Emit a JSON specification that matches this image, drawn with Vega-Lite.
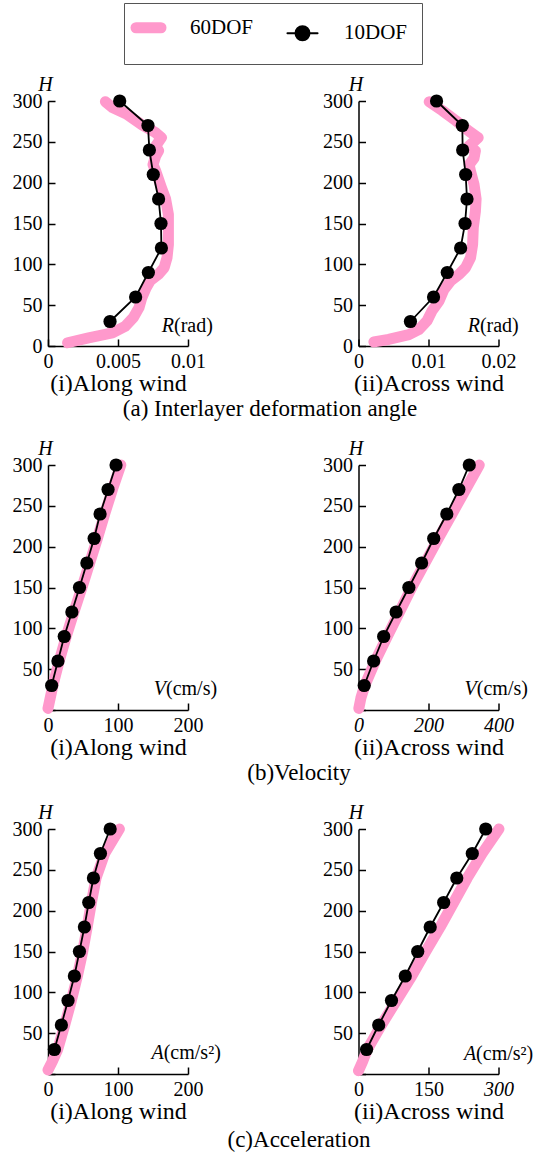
{
"$schema": "https://vega.github.io/schema/vega-lite/v6.json",
"background": "white",
"padding": {"left": 12, "top": 2, "right": 0, "bottom": 0},
"autosize": {"type": "pad"},
"config": {
  "font": "Liberation Serif",
  "view": {"stroke": null},
  "title": {"font": "Liberation Serif", "fontSize": 23, "fontWeight": "normal", "color": "black"},
  "text": {"font": "Liberation Serif", "fontSize": 20, "color": "black"},
  "axis": {"domainColor": "black", "domainWidth": 1.5, "tickColor": "black", "tickWidth": 1.5, "tickSize": -7, "labelFont": "Liberation Serif", "labelFontSize": 20, "labelColor": "black", "labelFlush": false, "labelOverlap": false, "grid": false, "titleFont": "Liberation Serif", "titleFontWeight": "normal", "titleColor": "black"},
  "axisX": {"titleFontSize": 24, "titlePadding": 0, "labelPadding": 12},
  "axisY": {"titleAngle": 0, "titleFontStyle": "italic", "titleFontSize": 20, "titleX": -3, "titleY": -17, "titleAlign": "center", "titleBaseline": "middle", "labelPadding": 13}
},
"datasets": {
"d": [
{"p":"a1","s":"10DOF","H":30,"v":0.00443},{"p":"a1","s":"10DOF","H":60,"v":0.00626},{"p":"a1","s":"10DOF","H":90,"v":0.00717},{"p":"a1","s":"10DOF","H":120,"v":0.0081},{"p":"a1","s":"10DOF","H":150,"v":0.00807},{"p":"a1","s":"10DOF","H":180,"v":0.0079},{"p":"a1","s":"10DOF","H":210,"v":0.00752},{"p":"a1","s":"10DOF","H":240,"v":0.00724},{"p":"a1","s":"10DOF","H":270,"v":0.00714},{"p":"a1","s":"10DOF","H":300,"v":0.00512},
{"p":"a1","s":"60DOF","H":4,"v":0.0014},{"p":"a1","s":"60DOF","H":10,"v":0.0029},{"p":"a1","s":"60DOF","H":16,"v":0.0046},{"p":"a1","s":"60DOF","H":24,"v":0.0055},{"p":"a1","s":"60DOF","H":35,"v":0.0061},{"p":"a1","s":"60DOF","H":47,"v":0.0065},{"p":"a1","s":"60DOF","H":59,"v":0.0067},{"p":"a1","s":"60DOF","H":71,"v":0.007},{"p":"a1","s":"60DOF","H":80,"v":0.0073},{"p":"a1","s":"60DOF","H":88,"v":0.0079},{"p":"a1","s":"60DOF","H":96,"v":0.0083},{"p":"a1","s":"60DOF","H":108,"v":0.0085},{"p":"a1","s":"60DOF","H":124,"v":0.0086},{"p":"a1","s":"60DOF","H":145,"v":0.0086},{"p":"a1","s":"60DOF","H":161,"v":0.0086},{"p":"a1","s":"60DOF","H":180,"v":0.0084},{"p":"a1","s":"60DOF","H":194,"v":0.0081},{"p":"a1","s":"60DOF","H":214,"v":0.0077},{"p":"a1","s":"60DOF","H":222,"v":0.0075},{"p":"a1","s":"60DOF","H":233,"v":0.0077},{"p":"a1","s":"60DOF","H":239,"v":0.0079},{"p":"a1","s":"60DOF","H":245,"v":0.0077},{"p":"a1","s":"60DOF","H":255,"v":0.0081},{"p":"a1","s":"60DOF","H":261,"v":0.0077},{"p":"a1","s":"60DOF","H":271,"v":0.0067},{"p":"a1","s":"60DOF","H":284,"v":0.0056},{"p":"a1","s":"60DOF","H":292,"v":0.0046},{"p":"a1","s":"60DOF","H":299,"v":0.0041},
{"p":"a2","s":"10DOF","H":30,"v":0.00742},{"p":"a2","s":"10DOF","H":60,"v":0.01072},{"p":"a2","s":"10DOF","H":90,"v":0.01268},{"p":"a2","s":"10DOF","H":120,"v":0.01459},{"p":"a2","s":"10DOF","H":150,"v":0.01522},{"p":"a2","s":"10DOF","H":180,"v":0.0155},{"p":"a2","s":"10DOF","H":210,"v":0.01531},{"p":"a2","s":"10DOF","H":240,"v":0.01488},{"p":"a2","s":"10DOF","H":270,"v":0.01483},{"p":"a2","s":"10DOF","H":300,"v":0.01115},
{"p":"a2","s":"60DOF","H":5,"v":0.0022},{"p":"a2","s":"60DOF","H":8,"v":0.0043},{"p":"a2","s":"60DOF","H":14,"v":0.0072},{"p":"a2","s":"60DOF","H":20,"v":0.0086},{"p":"a2","s":"60DOF","H":31,"v":0.0098},{"p":"a2","s":"60DOF","H":43,"v":0.0105},{"p":"a2","s":"60DOF","H":55,"v":0.0115},{"p":"a2","s":"60DOF","H":69,"v":0.0122},{"p":"a2","s":"60DOF","H":80,"v":0.0132},{"p":"a2","s":"60DOF","H":88,"v":0.0144},{"p":"a2","s":"60DOF","H":96,"v":0.0153},{"p":"a2","s":"60DOF","H":108,"v":0.016},{"p":"a2","s":"60DOF","H":124,"v":0.0163},{"p":"a2","s":"60DOF","H":145,"v":0.0164},{"p":"a2","s":"60DOF","H":165,"v":0.0167},{"p":"a2","s":"60DOF","H":180,"v":0.0168},{"p":"a2","s":"60DOF","H":198,"v":0.0165},{"p":"a2","s":"60DOF","H":214,"v":0.016},{"p":"a2","s":"60DOF","H":222,"v":0.0158},{"p":"a2","s":"60DOF","H":230,"v":0.0165},{"p":"a2","s":"60DOF","H":239,"v":0.0167},{"p":"a2","s":"60DOF","H":245,"v":0.0158},{"p":"a2","s":"60DOF","H":255,"v":0.0171},{"p":"a2","s":"60DOF","H":263,"v":0.0158},{"p":"a2","s":"60DOF","H":276,"v":0.0139},{"p":"a2","s":"60DOF","H":288,"v":0.012},{"p":"a2","s":"60DOF","H":299,"v":0.0101},
{"p":"b1","s":"10DOF","H":30,"v":5.2},{"p":"b1","s":"10DOF","H":60,"v":14.2},{"p":"b1","s":"10DOF","H":90,"v":23.2},{"p":"b1","s":"10DOF","H":120,"v":34.1},{"p":"b1","s":"10DOF","H":150,"v":45},{"p":"b1","s":"10DOF","H":180,"v":55.5},{"p":"b1","s":"10DOF","H":210,"v":65.9},{"p":"b1","s":"10DOF","H":240,"v":74.4},{"p":"b1","s":"10DOF","H":270,"v":85.8},{"p":"b1","s":"10DOF","H":300,"v":97.2},
{"p":"b1","s":"60DOF","H":2,"v":0},{"p":"b1","s":"60DOF","H":30,"v":7},{"p":"b1","s":"60DOF","H":60,"v":16},{"p":"b1","s":"60DOF","H":90,"v":26},{"p":"b1","s":"60DOF","H":120,"v":37},{"p":"b1","s":"60DOF","H":150,"v":48.5},{"p":"b1","s":"60DOF","H":180,"v":59.5},{"p":"b1","s":"60DOF","H":210,"v":70.5},{"p":"b1","s":"60DOF","H":240,"v":81},{"p":"b1","s":"60DOF","H":270,"v":92},{"p":"b1","s":"60DOF","H":300,"v":104},
{"p":"b2","s":"10DOF","H":30,"v":16.3},{"p":"b2","s":"10DOF","H":60,"v":43.2},{"p":"b2","s":"10DOF","H":90,"v":71.9},{"p":"b2","s":"10DOF","H":120,"v":107.4},{"p":"b2","s":"10DOF","H":150,"v":143.9},{"p":"b2","s":"10DOF","H":180,"v":180.3},{"p":"b2","s":"10DOF","H":210,"v":214.9},{"p":"b2","s":"10DOF","H":240,"v":252.3},{"p":"b2","s":"10DOF","H":270,"v":286.8},{"p":"b2","s":"10DOF","H":300,"v":316.5},
{"p":"b2","s":"60DOF","H":2,"v":1},{"p":"b2","s":"60DOF","H":15,"v":7},{"p":"b2","s":"60DOF","H":30,"v":18},{"p":"b2","s":"60DOF","H":60,"v":48},{"p":"b2","s":"60DOF","H":90,"v":82},{"p":"b2","s":"60DOF","H":120,"v":117},{"p":"b2","s":"60DOF","H":150,"v":152},{"p":"b2","s":"60DOF","H":180,"v":190},{"p":"b2","s":"60DOF","H":210,"v":228},{"p":"b2","s":"60DOF","H":240,"v":267},{"p":"b2","s":"60DOF","H":270,"v":306},{"p":"b2","s":"60DOF","H":300,"v":345},
{"p":"c1","s":"10DOF","H":30,"v":9.1},{"p":"c1","s":"10DOF","H":60,"v":19.1},{"p":"c1","s":"10DOF","H":90,"v":28.6},{"p":"c1","s":"10DOF","H":120,"v":37.7},{"p":"c1","s":"10DOF","H":150,"v":44.9},{"p":"c1","s":"10DOF","H":180,"v":52},{"p":"c1","s":"10DOF","H":210,"v":58.2},{"p":"c1","s":"10DOF","H":240,"v":64.9},{"p":"c1","s":"10DOF","H":270,"v":74.9},{"p":"c1","s":"10DOF","H":300,"v":88.8},
{"p":"c1","s":"60DOF","H":5,"v":0},{"p":"c1","s":"60DOF","H":15,"v":6},{"p":"c1","s":"60DOF","H":30,"v":13.8},{"p":"c1","s":"60DOF","H":60,"v":23.9},{"p":"c1","s":"60DOF","H":90,"v":33.4},{"p":"c1","s":"60DOF","H":120,"v":42},{"p":"c1","s":"60DOF","H":150,"v":49.6},{"p":"c1","s":"60DOF","H":180,"v":56},{"p":"c1","s":"60DOF","H":210,"v":62},{"p":"c1","s":"60DOF","H":240,"v":68.7},{"p":"c1","s":"60DOF","H":270,"v":81},{"p":"c1","s":"60DOF","H":300,"v":102},
{"p":"c2","s":"10DOF","H":30,"v":17.3},{"p":"c2","s":"10DOF","H":60,"v":43.3},{"p":"c2","s":"10DOF","H":90,"v":70.7},{"p":"c2","s":"10DOF","H":120,"v":100.2},{"p":"c2","s":"10DOF","H":150,"v":126.9},{"p":"c2","s":"10DOF","H":180,"v":153.6},{"p":"c2","s":"10DOF","H":210,"v":182.5},{"p":"c2","s":"10DOF","H":240,"v":210.6},{"p":"c2","s":"10DOF","H":270,"v":243.8},{"p":"c2","s":"10DOF","H":300,"v":272.6},
{"p":"c2","s":"60DOF","H":4,"v":0},{"p":"c2","s":"60DOF","H":15,"v":8.6},{"p":"c2","s":"60DOF","H":30,"v":18.8},{"p":"c2","s":"60DOF","H":60,"v":49},{"p":"c2","s":"60DOF","H":90,"v":81.5},{"p":"c2","s":"60DOF","H":120,"v":114},{"p":"c2","s":"60DOF","H":150,"v":144},{"p":"c2","s":"60DOF","H":180,"v":175},{"p":"c2","s":"60DOF","H":210,"v":204},{"p":"c2","s":"60DOF","H":240,"v":233},{"p":"c2","s":"60DOF","H":270,"v":265},{"p":"c2","s":"60DOF","H":300,"v":301}
]
},
"columns": 2,
"spacing": {"row": 119, "column": 170.5},
"bounds": "flush",
"resolve": {"scale": {"color": "shared"}, "legend": {"color": "shared"}},
"concat": [
{
 "width": 140, "height": 245,
 "data": {"name": "d"},
 "title": {"text": "(a) Interlayer deformation angle", "orient": "bottom", "anchor": "middle", "dx": 152, "offset": 3},
 "layer": [
  {"transform": [{"filter": "datum.p === 'a1' && datum.s === '60DOF'"}], "mark": {"type": "line", "strokeWidth": 11, "strokeCap": "round", "strokeJoin": "round"},
   "encoding": {
    "x": {"field": "v", "type": "quantitative", "scale": {"domain": [0, 0.01], "nice": false, "zero": false}, "axis": {"title": "(i)Along wind", "values": [0, 0.0025, 0.005, 0.0075, 0.01], "format": "~g", "labelExpr": "datum.value === 0 || datum.value === 0.005 || datum.value === 0.01 ? datum.label : ''"}},
    "y": {"field": "H", "type": "quantitative", "scale": {"domain": [0, 300], "nice": false}, "axis": {"title": "H", "values": [0,25,50,75,100,125,150,175,200,225,250,275,300], "labelExpr": "datum.value % 50 === 0 ? datum.label : ''"}},
    "order": {"field": "H", "type": "quantitative"},
    "color": {"field": "s", "type": "nominal", "scale": {"domain": ["60DOF", "10DOF"], "range": ["#ff99cc", "#000000"]},
     "legend": {"title": null, "orient": "none", "legendX": 76, "legendY": -98, "direction": "horizontal", "strokeColor": "#555555", "padding": 14, "labelFont": "Liberation Serif", "labelFontSize": 21, "labelColor": "black", "labelOffset": 31, "columnPadding": 29, "symbolSize": 1225, "symbolType": "stroke",
      "encode": {"symbols": {"update": {
        "shape": {"signal": "datum.value === '10DOF' ? 'M-0.86,0H0.86M0.4,0A0.4,0.4,0,1,1,-0.4,0A0.4,0.4,0,1,1,0.4,0Z' : 'stroke'"},
        "size": {"signal": "datum.value === '10DOF' ? 1225 : 625"},
        "fill": {"signal": "datum.value === '10DOF' ? '#000000' : 'transparent'"},
        "stroke": {"signal": "datum.value === '10DOF' ? '#000000' : '#ff99cc'"},
        "strokeWidth": {"signal": "datum.value === '10DOF' ? 2 : 11"},
        "strokeCap": {"value": "round"},
        "opacity": {"value": 1},
        "fillOpacity": {"value": 1},
        "strokeOpacity": {"value": 1}
      }}}}}}},
  {"transform": [{"filter": "datum.p === 'a1' && datum.s === '10DOF'"}], "mark": {"type": "line", "strokeWidth": 1.8}, "encoding": {"x": {"field": "v", "type": "quantitative"}, "y": {"field": "H", "type": "quantitative"}, "order": {"field": "H", "type": "quantitative"}, "color": {"field": "s", "type": "nominal", "legend": null}}},
  {"transform": [{"filter": "datum.p === 'a1' && datum.s === '10DOF'"}], "mark": {"type": "point", "filled": true, "size": 175, "color": "#000000", "opacity": 1}, "encoding": {"x": {"field": "v", "type": "quantitative"}, "y": {"field": "H", "type": "quantitative"}}},
  {"data": {"values": [{"t": "R"}]}, "mark": {"type": "text", "align": "right", "baseline": "middle", "fontStyle": "italic"}, "encoding": {"x": {"datum": 0.009, "type": "quantitative"}, "y": {"datum": 24, "type": "quantitative"}, "text": {"field": "t"}}},
  {"data": {"values": [{"t": "(rad)"}]}, "mark": {"type": "text", "align": "left", "baseline": "middle"}, "encoding": {"x": {"datum": 0.009, "type": "quantitative"}, "y": {"datum": 24, "type": "quantitative"}, "text": {"field": "t"}}}
 ]
},
{
 "width": 140, "height": 245,
 "data": {"name": "d"},
 "layer": [
  {"transform": [{"filter": "datum.p === 'a2' && datum.s === '60DOF'"}], "mark": {"type": "line", "strokeWidth": 11, "strokeCap": "round", "strokeJoin": "round"},
   "encoding": {
    "x": {"field": "v", "type": "quantitative", "scale": {"domain": [0, 0.02], "nice": false, "zero": false}, "axis": {"title": "(ii)Across wind", "values": [0, 0.005, 0.01, 0.015, 0.02], "format": "~g", "labelExpr": "datum.value === 0 || datum.value === 0.01 || datum.value === 0.02 ? datum.label : ''"}},
    "y": {"field": "H", "type": "quantitative", "scale": {"domain": [0, 300], "nice": false}, "axis": {"title": "H", "values": [0,25,50,75,100,125,150,175,200,225,250,275,300], "labelExpr": "datum.value % 50 === 0 ? datum.label : ''"}},
    "order": {"field": "H", "type": "quantitative"}, "color": {"field": "s", "type": "nominal", "legend": null}}},
  {"transform": [{"filter": "datum.p === 'a2' && datum.s === '10DOF'"}], "mark": {"type": "line", "strokeWidth": 1.8}, "encoding": {"x": {"field": "v", "type": "quantitative"}, "y": {"field": "H", "type": "quantitative"}, "order": {"field": "H", "type": "quantitative"}, "color": {"field": "s", "type": "nominal", "legend": null}}},
  {"transform": [{"filter": "datum.p === 'a2' && datum.s === '10DOF'"}], "mark": {"type": "point", "filled": true, "size": 175, "color": "#000000", "opacity": 1}, "encoding": {"x": {"field": "v", "type": "quantitative"}, "y": {"field": "H", "type": "quantitative"}}},
  {"data": {"values": [{"t": "R"}]}, "mark": {"type": "text", "align": "right", "baseline": "middle", "fontStyle": "italic"}, "encoding": {"x": {"datum": 0.01734, "type": "quantitative"}, "y": {"datum": 24, "type": "quantitative"}, "text": {"field": "t"}}},
  {"data": {"values": [{"t": "(rad)"}]}, "mark": {"type": "text", "align": "left", "baseline": "middle"}, "encoding": {"x": {"datum": 0.01734, "type": "quantitative"}, "y": {"datum": 24, "type": "quantitative"}, "text": {"field": "t"}}}
 ]
},
{
 "width": 140, "height": 245,
 "data": {"name": "d"},
 "title": {"text": "(b)Velocity", "orient": "bottom", "anchor": "middle", "dx": 181, "offset": 3},
 "layer": [
  {"transform": [{"filter": "datum.p === 'b1' && datum.s === '60DOF'"}], "mark": {"type": "line", "strokeWidth": 11, "strokeCap": "round", "strokeJoin": "round"},
   "encoding": {
    "x": {"field": "v", "type": "quantitative", "scale": {"domain": [0, 200], "nice": false, "zero": false}, "axis": {"title": "(i)Along wind", "values": [0, 50, 100, 150, 200], "labelExpr": "datum.value % 100 === 0 ? datum.label : ''"}},
    "y": {"field": "H", "type": "quantitative", "scale": {"domain": [0, 300], "nice": false}, "axis": {"title": "H", "values": [0,25,50,75,100,125,150,175,200,225,250,275,300], "labelExpr": "datum.value % 50 === 0 && datum.value > 0 ? datum.label : ''"}},
    "order": {"field": "H", "type": "quantitative"}, "color": {"field": "s", "type": "nominal", "legend": null}}},
  {"transform": [{"filter": "datum.p === 'b1' && datum.s === '10DOF'"}], "mark": {"type": "line", "strokeWidth": 1.8}, "encoding": {"x": {"field": "v", "type": "quantitative"}, "y": {"field": "H", "type": "quantitative"}, "order": {"field": "H", "type": "quantitative"}, "color": {"field": "s", "type": "nominal", "legend": null}}},
  {"transform": [{"filter": "datum.p === 'b1' && datum.s === '10DOF'"}], "mark": {"type": "point", "filled": true, "size": 175, "color": "#000000", "opacity": 1}, "encoding": {"x": {"field": "v", "type": "quantitative"}, "y": {"field": "H", "type": "quantitative"}}},
  {"data": {"values": [{"t": "V"}]}, "mark": {"type": "text", "align": "right", "baseline": "middle", "fontStyle": "italic"}, "encoding": {"x": {"datum": 168.6, "type": "quantitative"}, "y": {"datum": 26, "type": "quantitative"}, "text": {"field": "t"}}},
  {"data": {"values": [{"t": "(cm/s)"}]}, "mark": {"type": "text", "align": "left", "baseline": "middle"}, "encoding": {"x": {"datum": 168.6, "type": "quantitative"}, "y": {"datum": 26, "type": "quantitative"}, "text": {"field": "t"}}}
 ]
},
{
 "width": 140, "height": 245,
 "data": {"name": "d"},
 "layer": [
  {"transform": [{"filter": "datum.p === 'b2' && datum.s === '60DOF'"}], "mark": {"type": "line", "strokeWidth": 11, "strokeCap": "round", "strokeJoin": "round"},
   "encoding": {
    "x": {"field": "v", "type": "quantitative", "scale": {"domain": [0, 400], "nice": false, "zero": false}, "axis": {"title": "(ii)Across wind", "labelFontStyle": "italic", "values": [0, 100, 200, 300, 400], "labelExpr": "datum.value % 200 === 0 ? datum.label : ''"}},
    "y": {"field": "H", "type": "quantitative", "scale": {"domain": [0, 300], "nice": false}, "axis": {"title": "H", "values": [0,25,50,75,100,125,150,175,200,225,250,275,300], "labelExpr": "datum.value % 50 === 0 && datum.value > 0 ? datum.label : ''"}},
    "order": {"field": "H", "type": "quantitative"}, "color": {"field": "s", "type": "nominal", "legend": null}}},
  {"transform": [{"filter": "datum.p === 'b2' && datum.s === '10DOF'"}], "mark": {"type": "line", "strokeWidth": 1.8}, "encoding": {"x": {"field": "v", "type": "quantitative"}, "y": {"field": "H", "type": "quantitative"}, "order": {"field": "H", "type": "quantitative"}, "color": {"field": "s", "type": "nominal", "legend": null}}},
  {"transform": [{"filter": "datum.p === 'b2' && datum.s === '10DOF'"}], "mark": {"type": "point", "filled": true, "size": 175, "color": "#000000", "opacity": 1}, "encoding": {"x": {"field": "v", "type": "quantitative"}, "y": {"field": "H", "type": "quantitative"}}},
  {"data": {"values": [{"t": "V"}]}, "mark": {"type": "text", "align": "right", "baseline": "middle", "fontStyle": "italic"}, "encoding": {"x": {"datum": 338, "type": "quantitative"}, "y": {"datum": 26, "type": "quantitative"}, "text": {"field": "t"}}},
  {"data": {"values": [{"t": "(cm/s)"}]}, "mark": {"type": "text", "align": "left", "baseline": "middle"}, "encoding": {"x": {"datum": 338, "type": "quantitative"}, "y": {"datum": 26, "type": "quantitative"}, "text": {"field": "t"}}}
 ]
},
{
 "width": 140, "height": 245,
 "data": {"name": "d"},
 "title": {"text": "(c)Acceleration", "orient": "bottom", "anchor": "middle", "dx": 181, "offset": 6},
 "layer": [
  {"transform": [{"filter": "datum.p === 'c1' && datum.s === '60DOF'"}], "mark": {"type": "line", "strokeWidth": 11, "strokeCap": "round", "strokeJoin": "round"},
   "encoding": {
    "x": {"field": "v", "type": "quantitative", "scale": {"domain": [0, 200], "nice": false, "zero": false}, "axis": {"title": "(i)Along wind", "values": [0, 50, 100, 150, 200], "labelExpr": "datum.value % 100 === 0 ? datum.label : ''"}},
    "y": {"field": "H", "type": "quantitative", "scale": {"domain": [0, 300], "nice": false}, "axis": {"title": "H", "values": [0,25,50,75,100,125,150,175,200,225,250,275,300], "labelExpr": "datum.value % 50 === 0 && datum.value > 0 ? datum.label : ''"}},
    "order": {"field": "H", "type": "quantitative"}, "color": {"field": "s", "type": "nominal", "legend": null}}},
  {"transform": [{"filter": "datum.p === 'c1' && datum.s === '10DOF'"}], "mark": {"type": "line", "strokeWidth": 1.8}, "encoding": {"x": {"field": "v", "type": "quantitative"}, "y": {"field": "H", "type": "quantitative"}, "order": {"field": "H", "type": "quantitative"}, "color": {"field": "s", "type": "nominal", "legend": null}}},
  {"transform": [{"filter": "datum.p === 'c1' && datum.s === '10DOF'"}], "mark": {"type": "point", "filled": true, "size": 175, "color": "#000000", "opacity": 1}, "encoding": {"x": {"field": "v", "type": "quantitative"}, "y": {"field": "H", "type": "quantitative"}}},
  {"data": {"values": [{"t": "A"}]}, "mark": {"type": "text", "align": "right", "baseline": "middle", "fontStyle": "italic"}, "encoding": {"x": {"datum": 165.3, "type": "quantitative"}, "y": {"datum": 26, "type": "quantitative"}, "text": {"field": "t"}}},
  {"data": {"values": [{"t": "(cm/s²)"}]}, "mark": {"type": "text", "align": "left", "baseline": "middle"}, "encoding": {"x": {"datum": 165.3, "type": "quantitative"}, "y": {"datum": 26, "type": "quantitative"}, "text": {"field": "t"}}}
 ]
},
{
 "width": 140, "height": 245,
 "data": {"name": "d"},
 "layer": [
  {"transform": [{"filter": "datum.p === 'c2' && datum.s === '60DOF'"}], "mark": {"type": "line", "strokeWidth": 11, "strokeCap": "round", "strokeJoin": "round"},
   "encoding": {
    "x": {"field": "v", "type": "quantitative", "scale": {"domain": [0, 300], "nice": false, "zero": false}, "axis": {"title": "(ii)Across wind", "labelFontStyle": {"condition": {"test": "datum.value === 300", "value": "italic"}, "value": "normal"}, "values": [0, 75, 150, 225, 300], "labelExpr": "datum.value % 150 === 0 ? datum.label : ''"}},
    "y": {"field": "H", "type": "quantitative", "scale": {"domain": [0, 300], "nice": false}, "axis": {"title": "H", "values": [0,25,50,75,100,125,150,175,200,225,250,275,300], "labelExpr": "datum.value % 50 === 0 && datum.value > 0 ? datum.label : ''"}},
    "order": {"field": "H", "type": "quantitative"}, "color": {"field": "s", "type": "nominal", "legend": null}}},
  {"transform": [{"filter": "datum.p === 'c2' && datum.s === '10DOF'"}], "mark": {"type": "line", "strokeWidth": 1.8}, "encoding": {"x": {"field": "v", "type": "quantitative"}, "y": {"field": "H", "type": "quantitative"}, "order": {"field": "H", "type": "quantitative"}, "color": {"field": "s", "type": "nominal", "legend": null}}},
  {"transform": [{"filter": "datum.p === 'c2' && datum.s === '10DOF'"}], "mark": {"type": "point", "filled": true, "size": 175, "color": "#000000", "opacity": 1}, "encoding": {"x": {"field": "v", "type": "quantitative"}, "y": {"field": "H", "type": "quantitative"}}},
  {"data": {"values": [{"t": "A"}]}, "mark": {"type": "text", "align": "right", "baseline": "middle", "fontStyle": "italic"}, "encoding": {"x": {"datum": 252, "type": "quantitative"}, "y": {"datum": 24.5, "type": "quantitative"}, "text": {"field": "t"}}},
  {"data": {"values": [{"t": "(cm/s²)"}]}, "mark": {"type": "text", "align": "left", "baseline": "middle"}, "encoding": {"x": {"datum": 252, "type": "quantitative"}, "y": {"datum": 24.5, "type": "quantitative"}, "text": {"field": "t"}}}
 ]
}
]
}
